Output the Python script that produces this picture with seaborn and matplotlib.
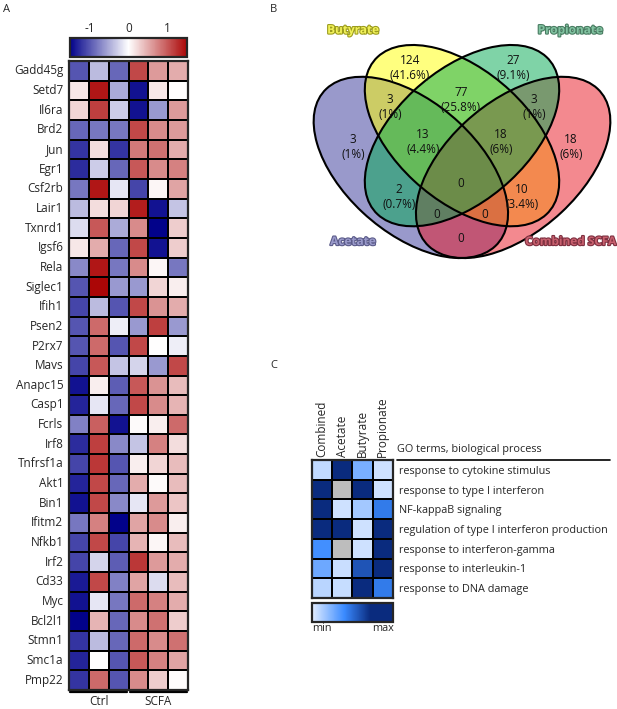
import numpy as np
import pandas as pd
import matplotlib
matplotlib.use("Agg")
import matplotlib.pyplot as plt
import matplotlib.patheffects as pe
from matplotlib.colors import LinearSegmentedColormap
from matplotlib.patches import Ellipse
import seaborn as sns

sns.set_style("white")
plt.rcParams['font.family'] = ['Open Sans', 'DejaVu Sans']
plt.rcParams['axes.unicode_minus'] = False

# ---- panel A: scaled expression, 3 Ctrl + 3 SCFA samples
genes = ['Gadd45g', 'Setd7', 'Il6ra', 'Brd2', 'Jun', 'Egr1', 'Csf2rb', 'Lair1',
         'Txnrd1', 'Igsf6', 'Rela', 'Siglec1', 'Ifih1', 'Psen2', 'P2rx7', 'Mavs',
         'Anapc15', 'Casp1', 'Fcrls', 'Irf8', 'Tnfrsf1a', 'Akt1', 'Bin1', 'Ifitm2',
         'Nfkb1', 'Irf2', 'Cd33', 'Myc', 'Bcl2l1', 'Stmn1', 'Smc1a', 'Pmp22']
ctrl_1 = [-1.0, 0.15, 0.25, -0.9, -1.2, -1.25, -0.8, -0.4, -0.2, 0.15, -0.7, -1.0, -1.1, -1.0, -1.0, -1.1,
          -1.4, -1.3, -0.75, -1.25, -1.1, -1.3, -1.4, -0.8, -1.1, -1.1, -1.35, -1.4, -1.6, -1.2, -1.3, -1.2]
ctrl_2 = [-0.4, 1.4, 1.15, -0.8, 0.2, -0.3, 1.4, 0.2, 1.0, 0.5, 1.4, 1.6, -0.4, 0.9, 0.9, 1.0,
          0.1, -0.15, 0.95, 1.15, 1.2, 1.1, 1.1, 0.75, 1.1, -0.25, 1.1, -0.15, 0.45, -0.4, 0.0, 0.9]
ctrl_3 = [-0.9, -0.5, -0.3, -0.8, -1.2, -0.9, -0.15, 0.25, -0.5, -0.9, -0.8, -0.6, -1.0, -0.1, -1.0, -0.35,
          -0.95, -0.9, -1.4, -0.7, -1.0, -0.9, -0.7, -1.6, -1.1, -0.95, -0.75, -0.8, -0.9, -0.9, -1.0, -1.0]
scfa_1 = [1.1, -1.4, -1.4, 1.1, 0.8, 1.0, -1.1, 1.35, 0.7, 1.1, 0.7, -0.6, 1.1, -0.6, 1.1, -0.25,
          1.0, 1.1, 0.03, -0.35, 0.1, 0.5, -0.15, 0.55, 0.45, 1.2, 0.55, 0.9, 0.7, 0.9, 1.0, 0.7]
scfa_2 = [0.6, 0.15, -0.6, 0.7, 0.85, 0.7, 0.05, -1.4, -1.6, -1.4, 0.05, 0.25, 0.65, 1.15, 0.0, -0.6,
          0.65, 0.7, 0.1, 0.75, 0.25, 0.03, 0.6, 0.7, 0.05, 0.6, -0.2, 0.75, 0.85, 0.7, 0.75, 0.3]
scfa_3 = [0.5, 0.0, 0.6, 0.6, 0.5, 0.75, 0.55, -0.35, 0.3, 0.3, -0.8, 0.1, 0.5, -0.6, -0.1, 1.1,
          0.4, 0.45, 0.9, 0.2, 0.4, 0.4, 0.35, 0.1, 0.4, 0.5, 0.4, 0.5, 0.3, 0.85, 0.55, 0.02]
cbar_ticks = [-1, 0, 1]

# ---- panel B: Venn region counts (A=Acetate, B=Butyrate, P=Propionate, C=Combined SCFA)
set_names = ['Acetate', 'Butyrate', 'Propionate', 'Combined SCFA']
region_sets = ['B', 'P', 'A', 'C', 'AB', 'BP', 'PC', 'ABP', 'BPC', 'ABPC', 'AP', 'BC', 'APC', 'ABC', 'AC']
region_counts = [124, 27, 3, 18, 3, 77, 3, 13, 18, 0, 2, 10, 0, 0, 0]

# ---- panel C: GO term enrichment (scaled, NaN = not found)
go_terms = ['response to cytokine stimulus', 'response to type I interferon', 'NF-kappaB signaling',
            'regulation of type I interferon production', 'response to interferon-gamma',
            'response to interleukin-1', 'response to DNA damage']
go_combined = [0.08, 1.0, 1.0, 1.0, 0.38, 0.28, 0.1]
go_acetate = [1.0, np.nan, 0.05, 1.0, np.nan, 0.06, 0.07]
go_butyrate = [0.25, 1.0, 0.15, 0.05, 0.05, 0.58, 1.0]
go_propionate = [0.05, 0.05, 0.45, 1.0, 1.0, 1.0, 0.45]

W, H = 617, 709
fig = plt.figure(figsize=(W / 100, H / 100), dpi=100)


def box(x0, y0, x1, y1):
    return [x0 / W, 1 - y1 / H, (x1 - x0) / W, (y1 - y0) / H]


# ================= A
expr = pd.DataFrame({'Ctrl 1': ctrl_1, 'Ctrl 2': ctrl_2, 'Ctrl 3': ctrl_3,
                     'SCFA 1': scfa_1, 'SCFA 2': scfa_2, 'SCFA 3': scfa_3}, index=genes)
rdbu = LinearSegmentedColormap.from_list('bwr2', ['#02028a', '#ffffff', '#ab0606'])
axa = fig.add_axes(box(69, 61, 188, 690))
caxa = fig.add_axes(box(70, 38, 187, 57))
sns.heatmap(expr, ax=axa, cmap=rdbu, vmin=-1.5, vmax=1.5, linewidths=1.4, linecolor='black',
            xticklabels=False, yticklabels=True, cbar_ax=caxa,
            cbar_kws={'orientation': 'horizontal', 'ticks': cbar_ticks})
axa.tick_params(axis='y', length=0, pad=4, labelsize=8.5)
axa.set_yticklabels(genes, rotation=0)
for s in axa.spines.values():
    s.set_visible(True)
    s.set_linewidth(1.6)
cb = axa.collections[0].colorbar
cb.set_ticklabels([str(t) for t in cbar_ticks])
cb.outline.set_linewidth(1.6)
cb.ax.tick_params(axis='x', direction='in', length=4, width=1.3, color='black',
                  top=True, bottom=True, labeltop=True, labelbottom=False, labelsize=8.5, pad=2)
# group bars
axa.plot([0.05, 2.92], [32.12, 32.12], color='black', lw=1.6, clip_on=False)
axa.plot([3.08, 5.95], [32.12, 32.12], color='black', lw=1.6, clip_on=False)
axa.text(1.5, 32.6, 'Ctrl', ha='center', va='center', fontsize=8.5)
axa.text(4.5, 32.6, 'SCFA', ha='center', va='center', fontsize=8.5)

# ================= B
ux, vy = 341.0, 318.0
bx0, by0, bx1, by1 = 285, 0, 617, 330
axb = fig.add_axes(box(bx0, by0, bx1, by1))
axb.set_xlim(0.5 + (bx0 - 462) / ux, 0.5 + (bx1 - 462) / ux)
axb.set_ylim(0.855 - (by1 - 45) / vy, 0.855 - (by0 - 45) / vy)
axb.axis('off')

ell = {'A': ((0.35, 0.47), -45, '#353599'),
       'B': ((0.50, 0.57), -45, '#ffff01'),
       'C': ((0.65, 0.47), 45, '#e91521'),
       'P': ((0.50, 0.57), 45, '#00a951')}
for k in ['A', 'B', 'C', 'P']:
    c, ang, col = ell[k]
    axb.add_patch(Ellipse(c, 0.7, 0.4, angle=ang, facecolor=col, alpha=0.5, edgecolor='none'))
for k in ['A', 'B', 'C', 'P']:
    c, ang, col = ell[k]
    axb.add_patch(Ellipse(c, 0.7, 0.4, angle=ang, facecolor='none', edgecolor='black', lw=1.5))

label_pos = {'B': (0.3475, 0.783), 'P': (0.65, 0.783), 'A': (0.180, 0.534), 'C': (0.820, 0.534),
             'AB': (0.289, 0.660), 'BP': (0.497, 0.682), 'PC': (0.711, 0.660),
             'ABP': (0.386, 0.550), 'BPC': (0.614, 0.550), 'ABPC': (0.497, 0.421),
             'AP': (0.315, 0.377), 'BC': (0.676, 0.377), 'APC': (0.427, 0.323),
             'ABC': (0.567, 0.323), 'AC': (0.497, 0.245)}
total = sum(region_counts)
for key, n in zip(region_sets, region_counts):
    if n == 0:
        txt = '0'
    else:
        pct = f"{100 * n / total:.1f}".rstrip('0').rstrip('.')
        txt = f"{n}\n({pct}%)"
    x, y = label_pos[key]
    axb.text(x, y, txt, ha='center', va='center', fontsize=8.5, linespacing=1.15, color='#111111')

name_style = {'Acetate': ((0.180, 0.237), '#9a9acb', '#5c5c8a'),
              'Butyrate': ((0.180, 0.902), '#f2f25a', '#9c9c1e'),
              'Propionate': ((0.817, 0.902), '#82c4a2', '#4a7c62'),
              'Combined SCFA': ((0.817, 0.237), '#c8606e', '#7e3040')}
for nm in set_names:
    (x, y), fc, ec = name_style[nm]
    axb.text(x, y, nm, ha='center', va='center', fontsize=8.5, fontweight='bold', color=fc,
             path_effects=[pe.withStroke(linewidth=1.6, foreground=ec)])

# ================= C
go = pd.DataFrame({'Combined': go_combined, 'Acetate': go_acetate,
                   'Butyrate': go_butyrate, 'Propionate': go_propionate}, index=go_terms)
blues = LinearSegmentedColormap.from_list('go', [(0, '#e2edff'), (0.4, '#3a8aff'),
                                                 (0.72, '#0a2b7e'), (1, '#0a2b7e')])
axc = fig.add_axes(box(312, 460, 393, 598))
caxc = fig.add_axes(box(312, 603, 393, 622))
axc.set_facecolor('#bdbdbd')
sns.heatmap(go, ax=axc, cmap=blues, vmin=0, vmax=1, linewidths=1.4, linecolor='black',
            cbar_ax=caxc, cbar_kws={'orientation': 'horizontal'})
for s in axc.spines.values():
    s.set_visible(True)
    s.set_linewidth(1.6)
axc.xaxis.tick_top()
axc.set_xticklabels(go.columns, rotation=90, fontsize=8.5)
axc.tick_params(axis='x', length=0, pad=2)
axc.yaxis.tick_right()
axc.set_yticklabels(go_terms, rotation=0, fontsize=7.8, ha='left')
axc.tick_params(axis='y', length=0, pad=4)
axc.text(4.2, -0.55, 'GO terms, biological process', ha='left', va='center', fontsize=7.8)
axc.plot([4.2, 14.7], [0, 0], color='black', lw=1.2, clip_on=False)
cbc = axc.collections[0].colorbar
cbc.set_ticks([])
cbc.outline.set_linewidth(1.6)
caxc.text(0.12, -0.35, 'min', transform=caxc.transAxes, ha='center', va='center', fontsize=7.8)
caxc.text(0.88, -0.35, 'max', transform=caxc.transAxes, ha='center', va='center', fontsize=7.8)

# panel letters
for lab, (x, y) in {'A': (3, 10), 'B': (270, 10), 'C': (270, 366)}.items():
    fig.text(x / W, 1 - y / H, lab, ha='left', va='center', fontsize=8)

fig.savefig('out.png', dpi=100)
